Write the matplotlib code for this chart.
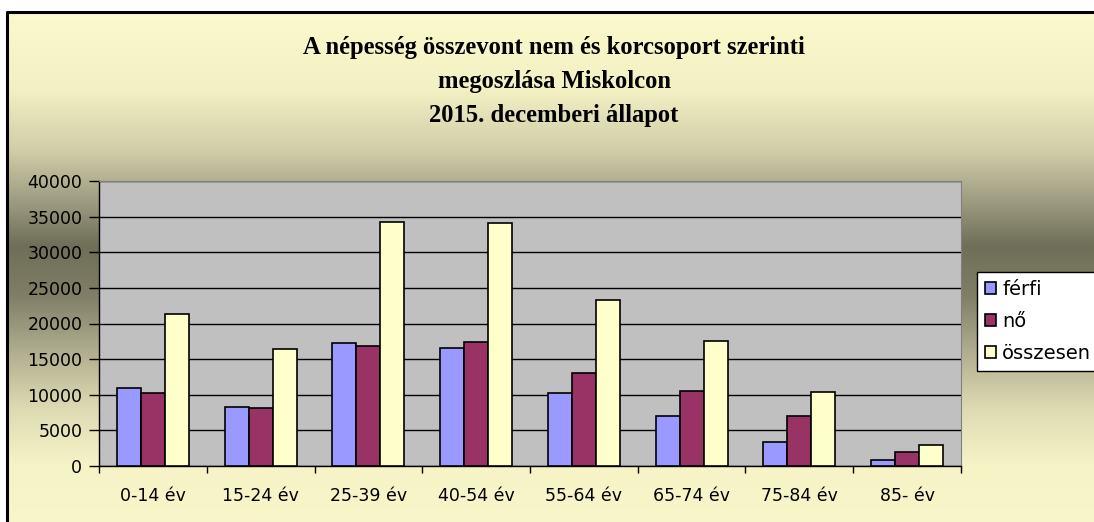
import numpy as np
import matplotlib
matplotlib.use("Agg")
import matplotlib.pyplot as plt
from matplotlib.colors import to_rgb

# ---- data ----
categories = ["0-14 év", "15-24 év", "25-39 év", "40-54 év", "55-64 év", "65-74 év", "75-84 év", "85- év"]
ferfi = [11000, 8300, 17300, 16600, 10300, 7000, 3400, 900]
no = [10300, 8100, 16800, 17450, 13050, 10550, 7000, 2000]
osszesen = [21300, 16400, 34300, 34050, 23300, 17500, 10350, 2950]
series_names = ["férfi", "nő", "összesen"]
title_lines = ["A népesség összevont nem és korcsoport szerinti",
               "megoszlása Miskolcon",
               "2015. decemberi állapot"]
yticks = list(range(0, 40001, 5000))

W, H = 1094, 522
fig = plt.figure(figsize=(W / 100, H / 100), dpi=100)
fig.patch.set_facecolor("white")

# ---- background (chart area with vertical gradient) ----
bg = fig.add_axes([0, 0, 1, 1])
bg.set_xlim(0, W)
bg.set_ylim(H, 0)
bg.axis("off")
stops = [(12, "#FCFACD"), (90, "#F3F0C3"), (150, "#D0CDA9"), (200, "#9F9D81"),
         (245, "#6F6E58"), (295, "#807E66"), (350, "#AFAD8E"), (410, "#DFDCB4"),
         (465, "#F6F3C7"), (530, "#F9F6CA")]
ys = np.arange(12, 531)
sy = [s[0] for s in stops]
cols = np.array([to_rgb(s[1]) for s in stops])
grad = np.stack([np.interp(ys, sy, cols[:, i]) for i in range(3)], axis=-1)[:, None, :]
bg.imshow(grad, extent=[7, W + 10, 531, 12], aspect="auto", interpolation="bilinear", zorder=0)
bg.plot([7, 7, W + 10], [H + 10, 12, 12], color="black", lw=2.2, zorder=1, solid_capstyle="projecting")

# title
for i, line in enumerate(title_lines):
    bg.text(554, 54 + 34 * i, line, ha="center", va="baseline",
            fontsize=17.7, fontweight="bold", family="Liberation Serif", color="black")

# ---- main axes ----
left, right, top, bottom = 99, 961, 181, 466
ax = fig.add_axes([left / W, (H - bottom) / H, (right - left) / W, (bottom - top) / H])
ax.set_facecolor("#C0C0C0")

x = np.arange(len(categories))
bw = 0.223
colors = ["#9999FF", "#993366", "#FFFFCC"]
bars = []
for k, (vals, c, name) in enumerate(zip([ferfi, no, osszesen], colors, series_names)):
    b = ax.bar(x + (k - 1) * bw, vals, width=bw, color=c, edgecolor="black",
               linewidth=1.2, label=name, zorder=3)
    bars.append(b)

ax.set_xlim(-0.5, len(categories) - 0.5)
ax.set_ylim(0, 40000)
ax.set_yticks(yticks)
ax.set_yticklabels([str(v) for v in yticks])
ax.yaxis.grid(True, color="black", linewidth=1.0, zorder=1)
ax.set_axisbelow(True)

ax.set_xticks(x)
ax.set_xticklabels(categories)
ax.set_xticks(np.arange(-0.5, len(categories)), minor=True)
ax.tick_params(axis="x", which="major", length=0, pad=15, labelsize=12.5)
ax.tick_params(axis="x", which="minor", length=5, width=1, direction="out", color="black")
ax.tick_params(axis="y", which="major", length=7.5, width=1, pad=4.5, direction="out", labelsize=12.5)
for lab in ax.get_xticklabels() + ax.get_yticklabels():
    lab.set_family("DejaVu Sans")

ax.spines["left"].set_color("black")
ax.spines["bottom"].set_color("black")
ax.spines["left"].set_linewidth(1.0)
ax.spines["bottom"].set_linewidth(1.0)
ax.spines["top"].set_color("#808080")
ax.spines["right"].set_color("#808080")

# ---- legend ----
leg = fig.legend(handles=bars, labels=series_names, loc="upper left",
                 bbox_to_anchor=(977 / W, (H - 272) / H), bbox_transform=fig.transFigure,
                 borderaxespad=0, frameon=True, fancybox=False, shadow=False,
                 prop={"family": "DejaVu Sans", "size": 14},
                 handlelength=0.6, handleheight=0.6, handletextpad=0.3,
                 labelspacing=0.67, borderpad=0.4)
leg.get_frame().set_edgecolor("black")
leg.get_frame().set_facecolor("white")
leg.get_frame().set_linewidth(1.0)
leg.get_frame().set_alpha(1)

fig.savefig("out.png", dpi=100, facecolor=fig.get_facecolor())
